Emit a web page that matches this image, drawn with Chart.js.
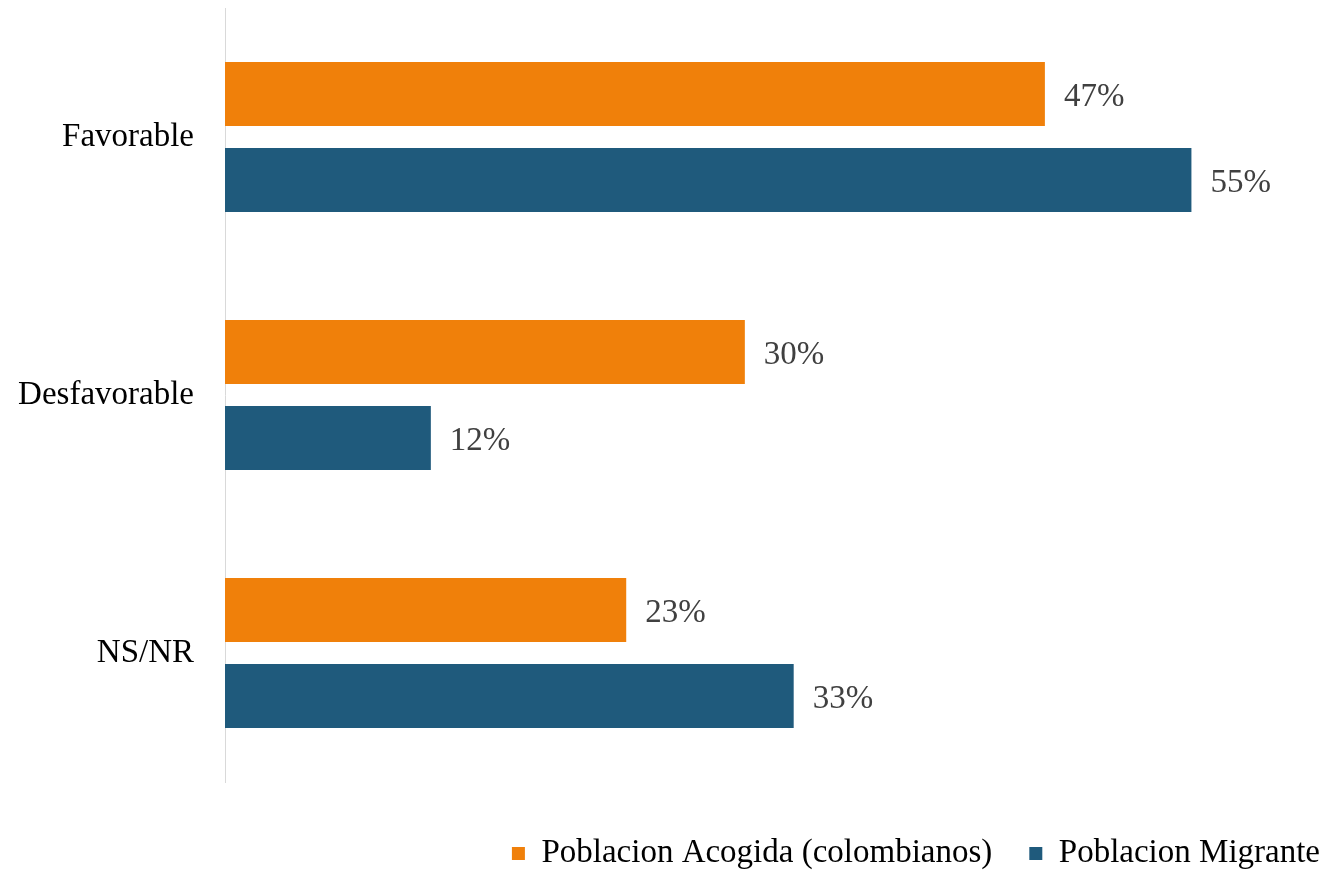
<!DOCTYPE html>
<html>
<head>
<meta charset="utf-8">
<script src="https://cdn.jsdelivr.net/npm/chart.js@4.4.1/dist/chart.umd.min.js"></script>
<style>
  html, body { margin: 0; padding: 0; background: #ffffff; }
  #wrap { position: relative; width: 1324px; height: 870px; }
</style>
</head>
<body>
<div id="wrap"><canvas id="myChart"></canvas></div>
<script>
// data
const categories = ["Favorable", "Desfavorable", "NS/NR"];
const seriesNames = ["Poblacion Acogida (colombianos)", "Poblacion Migrante"];
const acogida = [47.0, 29.8, 23.0];
const migrante = [55.4, 11.8, 32.6];

const orange = "#F0800A";
const blue = "#1F5A7C";
const fontName = "'Liberation Serif', 'DejaVu Serif', serif";

// value labels at the end of each bar
const barLabels = {
  id: "barLabels",
  afterDatasetsDraw(chart) {
    const ctx = chart.ctx;
    ctx.save();
    ctx.font = "33px " + fontName;
    ctx.fillStyle = "#404040";
    ctx.textAlign = "left";
    ctx.textBaseline = "middle";
    chart.data.datasets.forEach(function(ds, i) {
      const meta = chart.getDatasetMeta(i);
      meta.data.forEach(function(bar, j) {
        ctx.fillText(Math.round(ds.data[j]) + "%", bar.x + 19, bar.y + 3);
      });
    });
    ctx.restore();
  }
};

new Chart("myChart", {
  type: "bar",
  data: {
    labels: categories,
    datasets: [{
      label: seriesNames[0],
      data: acogida,
      backgroundColor: orange,
      categoryPercentage: 0.667,
      barPercentage: 0.744
    }, {
      label: seriesNames[1],
      data: migrante,
      backgroundColor: blue,
      categoryPercentage: 0.667,
      barPercentage: 0.744
    }]
  },
  options: {
    indexAxis: "y",
    responsive: true,
    maintainAspectRatio: false,
    animation: false,
    layout: { padding: { top: 8, right: -33, bottom: -10, left: 0 } },
    scales: {
      x: {
        min: 0,
        max: 63,
        grid: { display: false, drawTicks: false },
        border: { display: false },
        ticks: { display: false },
        afterFit: function(scale) { scale.height = 18; }
      },
      y: {
        grid: { display: false, drawTicks: false },
        border: { display: true, color: "#d9d9d9", width: 1 },
        ticks: {
          color: "#000000",
          padding: 31,
          font: { family: fontName, size: 33 }
        },
        afterFit: function(scale) {
          scale.width = 225;
          scale.paddingTop = 0;
          scale.paddingBottom = 0;
        }
      }
    },
    plugins: {
      legend: {
        position: "bottom",
        align: "end",
        labels: {
          boxWidth: 13,
          boxHeight: 13,
          padding: 37,
          color: "#000000",
          font: { family: fontName, size: 33 }
        }
      },
      tooltip: { enabled: false }
    }
  },
  plugins: [barLabels]
});
</script>
</body>
</html>
